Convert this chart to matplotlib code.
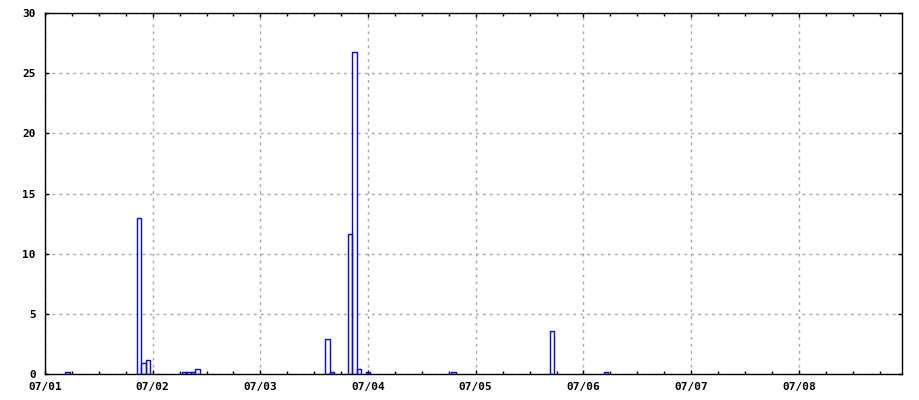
import datetime as dt

import matplotlib
matplotlib.use("Agg")
import matplotlib.pyplot as plt
import matplotlib.dates as mdates

# hourly totals (hour offset from 07/01 00:00, value)
start = dt.datetime(2013, 7, 1)
hours = [5, 21, 22, 23, 31, 32, 33, 34, 63, 64, 68, 69, 70, 72, 91, 113, 125]
values = [0.2, 13.0, 0.9, 1.2, 0.2, 0.2, 0.2, 0.45, 2.9, 0.2, 11.6, 26.8, 0.45,
          0.2, 0.2, 3.6, 0.2]
yticks = [0, 5, 10, 15, 20, 25, 30]
day_labels = ["07/01", "07/02", "07/03", "07/04", "07/05", "07/06", "07/07", "07/08"]

times = [start + dt.timedelta(hours=h) for h in hours]

fig = plt.figure(figsize=(9.2, 4.0), dpi=100)
ax = fig.add_axes([45 / 920, 1 - 374 / 400, 857 / 920, 361 / 400])

ax.bar(times, values, width=1 / 24, align="center",
       facecolor="none", edgecolor="#0000ff", linewidth=1.0, zorder=3)

ax.set_xlim(start, start + dt.timedelta(days=7, hours=23))
ax.set_ylim(0, 30)

days = [start + dt.timedelta(days=i) for i in range(len(day_labels))]
ax.set_xticks(days)
ax.set_xticklabels(day_labels)
ax.xaxis.set_minor_locator(mdates.HourLocator(byhour=[6, 12, 18]))
ax.set_yticks(yticks)
ax.set_yticklabels([str(v) for v in yticks])

ax.tick_params(which="both", direction="in", top=True, right=True,
               length=3, width=1, colors="black")
ax.tick_params(which="minor", length=2.5)
ax.tick_params(axis="x", which="major", pad=6)
ax.tick_params(axis="y", which="major", pad=6.5)
for lab in ax.get_xticklabels() + ax.get_yticklabels():
    lab.set_family("DejaVu Sans Mono")
    lab.set_fontweight("bold")
    lab.set_fontsize(8)

ax.grid(True, which="major", color="#a8a8a8", linestyle=(0, (2, 3)),
        linewidth=1.0, zorder=1)
for s in ax.spines.values():
    s.set_linewidth(1.0)

fig.savefig("out.png", dpi=100)
